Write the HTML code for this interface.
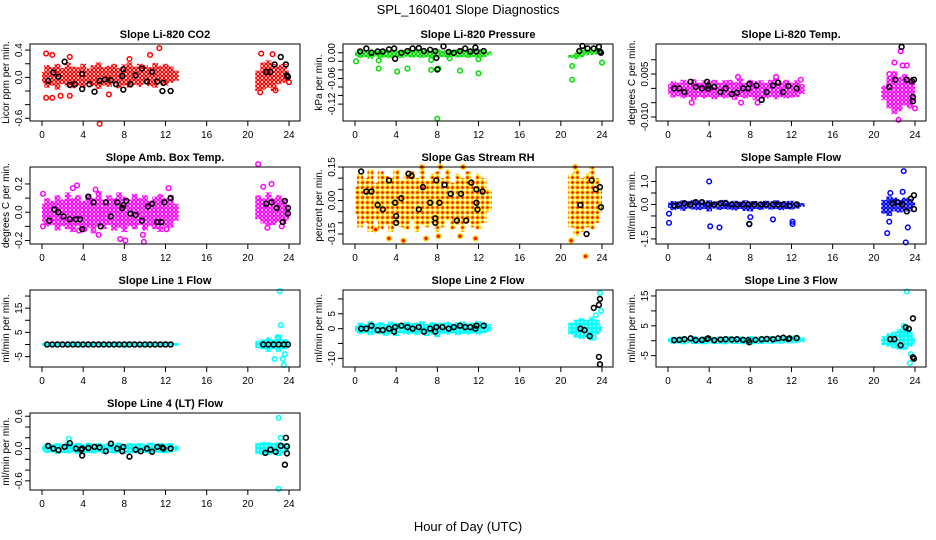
<!DOCTYPE html>
<html><head><meta charset="utf-8"><style>
body{margin:0;background:#fff;}
svg{display:block;font-family:"Liberation Sans",sans-serif;}
</style></head><body>
<svg id="chart" width="936" height="540" viewBox="0 0 936 540">
<defs>
<pattern id="p-red" width="4" height="4" patternUnits="userSpaceOnUse"><rect width="4" height="4" fill="#fff"/><circle cx="2" cy="2" r="1.6" fill="none" stroke="#f00" stroke-width="1.2"/></pattern>
<pattern id="p-green" width="4" height="4" patternUnits="userSpaceOnUse"><rect width="4" height="4" fill="#fff"/><circle cx="2" cy="2" r="1.6" fill="none" stroke="#0d0" stroke-width="1.4"/></pattern>
<pattern id="p-mag" width="4" height="4" patternUnits="userSpaceOnUse"><rect width="4" height="4" fill="#fff"/><circle cx="2" cy="2" r="1.6" fill="none" stroke="#f0f" stroke-width="1.3"/></pattern>
<pattern id="p-rh" width="5" height="5" patternUnits="userSpaceOnUse"><rect width="5" height="5" fill="#fff"/><circle cx="2.5" cy="2.5" r="1.9" fill="#f00" stroke="#fd0" stroke-width="1.2"/></pattern>
<pattern id="p-blue" width="4" height="4" patternUnits="userSpaceOnUse"><rect width="4" height="4" fill="#fff"/><circle cx="2" cy="2" r="1.6" fill="none" stroke="#00f" stroke-width="1.5"/></pattern>
<pattern id="p-cyan" width="4" height="4" patternUnits="userSpaceOnUse"><rect width="4" height="4" fill="#0ff"/><circle cx="2" cy="2" r="0.8" fill="#fff"/></pattern>
</defs>
<text x="468" y="14" font-size="13" text-anchor="middle">SPL_160401  Slope Diagnostics</text>
<text x="468" y="531" font-size="13" text-anchor="middle">Hour of Day (UTC)</text>
<g id="panels"></g>
</svg>
<script>
const xTicks=[0,4,8,12,16,20,24];
const titles=["Slope Li-820 CO2","Slope Li-820 Pressure","Slope Li-820 Temp.","Slope Amb. Box Temp.","Slope Gas Stream RH","Slope Sample Flow","Slope Line 1 Flow","Slope Line 2 Flow","Slope Line 3 Flow","Slope Line 4 (LT) Flow"];
const yLabels=["Licor ppm per min.","kPa per min.","degrees C per min.","degrees C per min.","percent per min.","ml/min per min.","ml/min per min.","ml/min per min.","ml/min per min.","ml/min per min."];
const yMin=[-0.64,-0.1595,-0.0114,-0.225,-0.195,-1.72,-9.3,-12.9,-8.8,-0.77];
const yMax=[0.49,0.0205,0.0155,0.32,0.15,1.63,22.5,13,17,0.66];
const yTicks=[[-0.6,-0.4,-0.2,0,0.2,0.4],[-0.12,-0.1,-0.08,-0.06,-0.04,-0.02,0],[-0.01,-0.005,0,0.005,0.01],[-0.2,-0.1,0,0.1,0.2],[-0.15,-0.1,-0.05,0,0.05,0.1,0.15],[-1.5,-1,-0.5,0,0.5,1],[-5,0,5,10,15,20],[-10,-5,0,5,10],[-5,0,5,10,15],[-0.6,-0.4,-0.2,0,0.2,0.4,0.6]];
const yTickLabels=[["-0.6","","","0.0","","0.4"],["-0.12","","","-0.06","","","0.00"],["-0.010","","","0.005",""],["-0.2","","0.0","","0.2"],["-0.15","","","0.00","","","0.15"],["-1.5","","","0.0","","1.0"],["-5","","5","","15",""],["-10","","0","5",""],["-5","","5","","15"],["-0.6","","","0.0","","","0.6"]];
const patterns=["p-red","p-green","p-mag","p-mag","p-rh","p-blue","p-cyan","p-cyan","p-cyan","p-cyan"];
const ptStroke=["#f00","#0d0","#f0f","#f0f","#fc0","#00f","#0ff","#0ff","#0ff","#0ff"];
// cloud envelope per half-hour bin
const cloudHours=[0,0.5,1,1.5,2,2.5,3,3.5,4,4.5,5,5.5,6,6.5,7,7.5,8,8.5,9,9.5,10,10.5,11,11.5,12,12.5,13,21,21.5,22,22.5,23,23.5,24];
const cloudHi=[
[0.08,0.18,0.15,0.2,0.14,0.22,0.16,0.15,0.2,0.13,0.18,0.22,0.15,0.17,0.2,0.14,0.19,0.22,0.16,0.2,0.18,0.15,0.21,0.17,0.2,0.16,0.1,0.1,0.22,0.25,0.2,0.18,0.2,0.1],
[0.003,0.007,0.006,0.008,0.005,0.009,0.007,0.006,0.008,0.005,0.007,0.006,0.008,0.005,0.007,0.006,0.008,0.005,0.007,0.006,0.008,0.005,0.007,0.006,0.008,0.006,0.003,-0.005,0.0,0.006,0.008,0.008,0.01,0.008],
[0.0015,0.0025,0.002,0.003,0.0025,0.0032,0.002,0.0028,0.0025,0.003,0.002,0.0028,0.003,0.0022,0.0035,0.002,0.003,0.0025,0.0028,0.002,0.003,0.0035,0.0025,0.003,0.002,0.0028,0.0015,0.001,0.004,0.006,0.004,0.005,0.004,0.003],
[0.06,0.1,0.08,0.12,0.09,0.14,0.1,0.12,0.08,0.13,0.1,0.15,0.09,0.12,0.1,0.14,0.11,0.09,0.13,0.1,0.12,0.08,0.11,0.13,0.1,0.12,0.06,0.12,0.1,0.14,0.1,0.12,0.1,0.05],
[0.06,0.12,0.1,0.14,0.08,0.13,0.11,0.1,0.14,0.09,0.12,0.13,0.1,0.14,0.09,0.12,0.13,0.1,0.14,0.08,0.12,0.1,0.13,0.09,0.12,0.1,0.05,0.12,0.14,0.1,0.12,0.15,0.1,0.05],
[0.08,0.15,0.12,0.18,0.14,0.2,0.12,0.16,0.18,0.12,0.15,0.2,0.13,0.16,0.12,0.18,0.14,0.15,0.12,0.16,0.14,0.18,0.12,0.15,0.16,0.12,0.06,0.2,0.35,0.3,0.2,0.3,0.25,0.1],
[0.6,1,0.9,1.2,0.8,1.1,1.3,0.9,1.2,1,1.1,0.8,1.2,1,1.1,0.9,1.3,1,1.1,0.9,1.2,1,1.1,0.9,1.2,1,0.6,1.5,2,3,2,4,2,1],
[1,2,1.5,2.5,1.8,2.2,1.6,2.4,2,1.5,2.3,1.8,2,2.5,1.6,2.2,1.8,2,2.4,1.7,2.2,2.5,1.8,2,2.5,2.2,1.5,2,3,3.5,3,4,3,1],
[0.8,1.3,1.1,1.5,1.2,1.6,1.1,1.4,1.5,1.2,1.4,1.3,1.5,1.1,1.4,1.2,1.5,1.3,1.4,1.2,1.6,1.3,1.5,1.4,1.7,1.8,1.2,1.5,2.5,3,4,5,3,1],
[0.05,0.09,0.08,0.1,0.08,0.12,0.09,0.1,0.08,0.11,0.09,0.1,0.08,0.1,0.09,0.11,0.08,0.1,0.09,0.1,0.08,0.11,0.09,0.1,0.09,0.1,0.06,0.1,0.12,0.12,0.1,0.12,0.1,0.05]
];
const cloudLo=[
[-0.08,-0.15,-0.12,-0.18,-0.1,-0.14,-0.16,-0.12,-0.15,-0.1,-0.13,-0.17,-0.12,-0.14,-0.1,-0.16,-0.12,-0.15,-0.11,-0.14,-0.1,-0.13,-0.15,-0.1,-0.12,-0.08,-0.05,-0.2,-0.18,-0.15,-0.2,-0.1,-0.08,-0.05],
[-0.008,-0.012,-0.01,-0.014,-0.009,-0.012,-0.011,-0.013,-0.01,-0.012,-0.009,-0.011,-0.01,-0.012,-0.01,-0.013,-0.011,-0.01,-0.012,-0.009,-0.011,-0.01,-0.012,-0.01,-0.013,-0.01,-0.006,-0.012,-0.015,-0.01,-0.006,-0.005,-0.004,-0.002],
[-0.002,-0.0032,-0.0028,-0.0035,-0.003,-0.004,-0.003,-0.0035,-0.003,-0.0038,-0.003,-0.0035,-0.0032,-0.004,-0.003,-0.0035,-0.003,-0.004,-0.0032,-0.0035,-0.003,-0.0038,-0.003,-0.0035,-0.0032,-0.003,-0.002,-0.004,-0.007,-0.009,-0.008,-0.006,-0.007,-0.005],
[-0.07,-0.1,-0.09,-0.13,-0.1,-0.12,-0.14,-0.1,-0.13,-0.11,-0.15,-0.1,-0.12,-0.09,-0.13,-0.11,-0.14,-0.1,-0.12,-0.09,-0.13,-0.1,-0.12,-0.14,-0.1,-0.11,-0.06,-0.05,-0.08,-0.1,-0.09,-0.07,-0.08,-0.05],
[-0.06,-0.12,-0.1,-0.14,-0.09,-0.13,-0.11,-0.14,-0.1,-0.12,-0.13,-0.09,-0.14,-0.11,-0.12,-0.1,-0.14,-0.12,-0.09,-0.13,-0.11,-0.14,-0.1,-0.12,-0.13,-0.1,-0.05,-0.12,-0.16,-0.14,-0.12,-0.13,-0.1,-0.05],
[-0.15,-0.25,-0.2,-0.28,-0.18,-0.22,-0.25,-0.2,-0.3,-0.18,-0.24,-0.2,-0.22,-0.26,-0.2,-0.28,-0.3,-0.2,-0.24,-0.18,-0.22,-0.2,-0.25,-0.2,-0.22,-0.18,-0.1,-0.4,-0.5,-0.3,-0.35,-0.3,-0.3,-0.1],
[-0.6,-1,-0.9,-1.2,-0.8,-1.1,-1,-1.2,-0.9,-1.1,-1,-1.2,-0.8,-1.1,-1,-1.2,-1.3,-1,-1.1,-0.9,-1.2,-1,-1.1,-0.9,-1.1,-1,-0.6,-1.5,-2,-3,-2,-3,-2,-1],
[-1,-1.8,-1.5,-2.2,-1.6,-2,-2.4,-1.8,-2.5,-1.6,-2,-1.8,-2.2,-1.6,-2.5,-2,-2.8,-1.8,-2,-1.6,-2.2,-1.8,-2,-1.6,-2,-1.5,-1,-2,-3,-3.5,-3,-4,-2,-1],
[-0.6,-1,-0.9,-1.2,-0.8,-1.1,-1,-1.2,-0.9,-1.1,-1,-1.2,-0.9,-1.1,-1,-1.2,-1.3,-1,-1.1,-0.9,-1,-0.9,-1,-0.8,-0.9,-0.8,-0.5,-1.5,-2,-2.5,-3,-3,-2,-1],
[-0.05,-0.08,-0.07,-0.1,-0.08,-0.09,-0.07,-0.1,-0.11,-0.08,-0.09,-0.07,-0.1,-0.08,-0.09,-0.07,-0.1,-0.08,-0.09,-0.07,-0.08,-0.09,-0.07,-0.08,-0.09,-0.07,-0.05,-0.1,-0.12,-0.12,-0.1,-0.14,-0.1,-0.05]
];
const outT=[
[0.4,1,0.4,1,1.8,2.7,6.5,5.6,10.5,11.4,2.7,8.5,21.3,22.4,21.2,22.7,24],
[0.1,2.3,2.3,4.1,5.1,7.4,8.1,10.2,12,8,21.1,21.1,24,12,9.2,7.4],
[2.3,6.8,7.1,8.7,10.5,12.9,22,22.6,22.8,23.2,22.4,24,21.5],
[0.1,0.1,3,3.4,3.6,5.2,5.5,4.1,7.6,8.1,9.8,9.9,12.1,12.3,21,21.5,22.3,21.9,23.3],
[2,3.3,4.7,6.9,8.1,10.2,11.7,6.5,8.3,10.5,21,22.4,21.4],
[0.1,0.1,4,4.1,5,7.9,8,10.2,12.1,12.1,21.3,21.5,22.9,22.8,23.3,23.1,21.6],
[23.1,23.2,22.9,22.6,23.4,23.6,23.5,23.7],
[23.8,23.4,23.2,23.9],
[23.2,23.6,23.5,22.9,23.3],
[23,23,23.2,2.6]
];
const outV=[
[0.35,0.33,-0.3,-0.3,-0.27,-0.27,-0.25,-0.68,0.33,0.43,0.3,0.27,0.35,0.34,-0.22,-0.19,-0.07],
[-0.02,-0.018,-0.037,-0.044,-0.037,-0.04,-0.037,-0.042,-0.048,-0.154,-0.031,-0.063,-0.023,-0.015,-0.013,-0.017],
[-0.005,0.004,-0.005,-0.005,0.004,0.003,0.009,0.013,0.008,0.008,-0.011,-0.007,0.005],
[0.13,-0.1,0.17,0.19,-0.13,0.16,-0.16,-0.12,-0.19,-0.2,-0.16,-0.21,-0.12,0.17,0.34,0.18,0.2,-0.11,-0.1],
[-0.13,-0.17,-0.18,-0.17,-0.16,-0.16,-0.17,0.15,0.15,0.15,-0.18,-0.25,0.15],
[-0.4,-0.8,1.0,-0.95,-1.0,-0.85,-0.55,-0.65,-0.75,-0.85,-1.25,-0.75,1.45,0.55,-1.0,-1.65,0.5],
[22,8,3,-6,-6,-4,-8.5,1],
[12,4.5,-3,6],
[16.5,-4.5,-7.5,5,3],
[0.57,-0.75,0.2,0.18]
];
const blkT=[
[0.6,1.1,1.6,2.2,2.7,3.2,3.9,3.9,4.6,5.1,5.6,6.1,6.7,7.2,7.8,7.9,7.9,8.6,9.1,9.7,10.2,10.7,11.2,11.7,11.8,12.5,21.8,22.2,22.6,23.2,23.7,23.8,23.9],
[0.5,1.1,1.6,2.2,2.7,3.3,3.8,3.9,4.5,5.1,5.6,6.2,6.7,7.3,7.8,7.9,8,8.6,9.1,9.6,10.2,10.7,11.2,11.7,11.8,12.5,21.8,22.1,22.6,23.2,23.7,23.8,23.9],
[0.6,1.1,1.6,2.2,2.7,3.3,3.8,3.9,3.9,4.5,5.1,5.6,6.2,6.7,7.3,7.8,7.9,8.6,9.1,9.6,10.2,10.7,11.2,11.7,12.5,21.5,22.1,22.7,23.2,23.7,23.8,23.8,23.9],
[0.7,1.2,1.6,2.1,2.7,3.3,3.7,3.9,4.5,5,5.7,6.2,6.7,7.3,7.8,7.9,8.2,8.6,9.1,9.7,10.3,10.7,11.2,11.6,11.9,12.5,21.8,22.3,22.8,23.4,23.6,23.9,23.9],
[0.6,1.1,1.6,2.2,2.7,3.3,3.9,4,4,4.5,5.2,5.5,6.2,6.6,7.3,7.8,7.8,7.9,8.2,8.7,9.3,9.9,10.3,10.8,11.3,11.8,11.8,11.9,12.4,21.9,22.5,23,23.4,23.8,23.9],
[0.6,1.1,1.6,2.2,2.7,3.3,3.9,4.5,5.1,5.6,6.2,6.7,7.3,7.8,7.9,8.4,9,9.6,10.2,10.7,11.2,11.8,12.5,21.8,22.3,22.8,23.2,23.6,23.9,23.9],
[0.5,1,1.5,2,2.5,3,3.5,4,4.5,5,5.5,6,6.5,7,7.5,8,8.5,9,9.5,10,10.5,11,11.5,12,12.5,21.5,22,22.5,23,23.5,23.9],
[0.6,1.1,1.6,2.2,2.7,3.3,3.8,3.9,4.5,5.1,5.6,6.2,6.7,7.3,7.8,7.9,8.5,9.1,9.6,10.2,10.7,11.2,11.7,11.8,12.5,21.9,22.3,22.8,23.2,23.7,23.8,23.7,23.8],
[0.6,1.1,1.6,2.2,2.7,3.3,3.8,3.9,4.5,5.1,5.6,6.2,6.7,7.3,7.8,7.9,8.5,9.1,9.6,10.2,10.7,11.2,11.7,11.8,12.5,21.6,22,22.6,23.1,23.4,23.8,23.8,23.9],
[0.6,1.1,1.6,2.2,2.7,3.3,3.8,3.9,3.9,4.5,5.1,5.6,6.2,6.7,7.3,7.8,7.9,8.5,9.1,9.6,10.2,10.7,11.2,11.7,11.8,12.5,21.7,22.2,22.7,23.2,23.6,23.7,23.8,23.8]
];
const blkV=[
[-0.05,0.07,0.01,0.23,-0.11,-0.1,0.05,-0.17,-0.1,-0.21,-0.05,-0.03,-0.04,-0.1,0.02,0.12,-0.18,-0.1,0.03,0.13,-0.06,0.08,-0.06,-0.2,-0.08,-0.2,0.08,0.08,0.19,0.3,0.19,0.03,0.01],
[0.003,0.01,0,0.003,0.003,0.008,0.01,-0.014,0,0.004,0.01,0.011,0.004,0.007,0.004,-0.012,-0.039,0.015,0.002,0,0.004,0.01,0.003,0.012,0.003,0.004,0.004,0.016,0.01,0.01,0.014,0.003,0],
[0,0,-0.0013,0.0023,0.0005,0,0.0023,0.001,-0.0001,0.0005,-0.0013,0,-0.002,-0.0015,0,0,0.0015,0.001,-0.004,-0.0013,0.001,0.002,-0.0013,0.0008,0,0.0005,0.003,0.0145,0.003,0.0025,-0.003,-0.0045,0.003],
[-0.06,0.02,0,-0.03,-0.05,-0.05,-0.05,-0.12,0.11,0.07,-0.1,0.07,-0.03,0.07,0.03,0.05,0.08,-0.01,-0.02,-0.06,0.04,0.06,-0.07,-0.07,0.07,0.1,0.06,0.07,0.03,-0.07,0.08,-0.01,0.03],
[0.13,0.04,0.04,-0.02,-0.04,0.09,-0.01,-0.1,-0.07,0.01,0.12,0.11,-0.04,0.06,-0.01,-0.08,-0.1,0.09,-0.01,0.07,0.03,-0.09,0.03,-0.09,0.08,0.05,-0.01,-0.04,0.04,-0.02,-0.15,0.09,0.05,0.06,-0.03],
[-0.05,0,0.05,0,0.1,0.1,0,0,0.05,0.05,0,0,0,0,-0.85,0,0,0,0,0,0,-0.05,0,0.05,0.1,0,-0.3,0.25,0.4,-0.2],
[0,0,0,0,0,0,0,0,0,0,0,0,0,0,0,0,0,0,0,0,0,0,0,0,0,0,0,0,0,0,0],
[0,0,1,-0.5,-0.5,0,-1,0.5,1,0.5,0,0.5,-1,0,-1,0.5,0.5,0,0.5,1,0.5,0.5,0,1,1,0,-0.5,-2.5,7,8,10,-9.5,-12],
[0.2,0.3,0.5,0.8,0.2,0.3,0.6,0.8,0.2,0.4,0.5,0.4,0.5,0.3,0.2,-0.5,0.3,0.5,0.6,0.5,0.8,1,0.6,0.8,0.9,0.5,0.5,-1.5,4.5,4,7.5,-5.5,-6],
[0.05,0,-0.03,0.03,0.1,0,-0.02,0,-0.13,0.01,0.03,0.02,-0.05,0.09,0,-0.05,0.03,-0.15,-0.02,-0.05,0,-0.06,0.03,0.02,0,0,-0.08,-0.02,-0.06,0.05,-0.3,0.2,-0.09,0.04]
];
const NS="http://www.w3.org/2000/svg";
const root=document.getElementById('panels');
function mk(tag,attrs,parent){const e=document.createElementNS(NS,tag);for(const k in attrs)e.setAttribute(k,attrs[k]);parent.appendChild(e);return e;}
for(let p=0;p<10;p++){
  const c=p%3,r=Math.floor(p/3);
  const L=30+313*c,T=44+123*r,W=270,H=77;
  const sx=t=>L+12+t*247/24;
  const sy=v=>T+H-(v-yMin[p])/(yMax[p]-yMin[p])*H;
  const g=mk('g',{},root);
  
  
  const tt=mk('text',{x:L+W/2,y:T-6,'font-size':11,'font-weight':'bold','text-anchor':'middle'},g);
  tt.textContent=titles[p];
  
  
  cloudHours.forEach((t,i)=>{
    const x0=sx(Math.max(0,t-0.28)),x1=sx(Math.min(24,t+0.28));
    const rc=mk('rect',{x:x0,y:sy(cloudHi[p][i]),width:x1-x0,height:sy(cloudLo[p][i])-sy(cloudHi[p][i]),fill:'url(#'+patterns[p]+')'},g);
    
    
  });
  outT[p].forEach((t,i)=>{
    const ci=mk('circle',{cx:sx(t),cy:sy(outV[p][i]),r:2.3,fill:p==4?'#f00':'none',stroke:ptStroke[p],'stroke-width':1.5},g);
    
    
  });
  blkT[p].forEach((t,i)=>{
    const ci=mk('circle',{cx:sx(t),cy:sy(blkV[p][i]),r:2.4,fill:'none',stroke:'#000','stroke-width':1.6},g);
    
    
  });
  const bx=mk('rect',{x:L,y:T,width:W,height:H,fill:'none',stroke:'#000','stroke-width':1},g);
  
  
  xTicks.forEach(t=>{
    mk('line',{x1:sx(t),x2:sx(t),y1:T+H,y2:T+H+5,stroke:'#000'},g);
    const tx=mk('text',{x:sx(t),y:T+H+17,'font-size':10,'text-anchor':'middle'},g);
    tx.textContent=t;
    
    
  });
  yTicks[p].forEach((v,i)=>{
    const y=sy(v);
    mk('line',{x1:L-5,x2:L,y1:y,y2:y,stroke:'#000'},g);
    if(yTickLabels[p][i]){
      const tx=mk('text',{x:0,y:0,'font-size':10,'text-anchor':'middle',transform:`translate(${L-8},${y}) rotate(-90)`},g);
      tx.textContent=yTickLabels[p][i];
      
      
    }
  });
  const yl=mk('text',{x:0,y:0,'font-size':10,'text-anchor':'middle',transform:`translate(${L-21},${T+H/2}) rotate(-90)`},g);
  yl.textContent=yLabels[p];
  
  
}
</script>
</body></html>
